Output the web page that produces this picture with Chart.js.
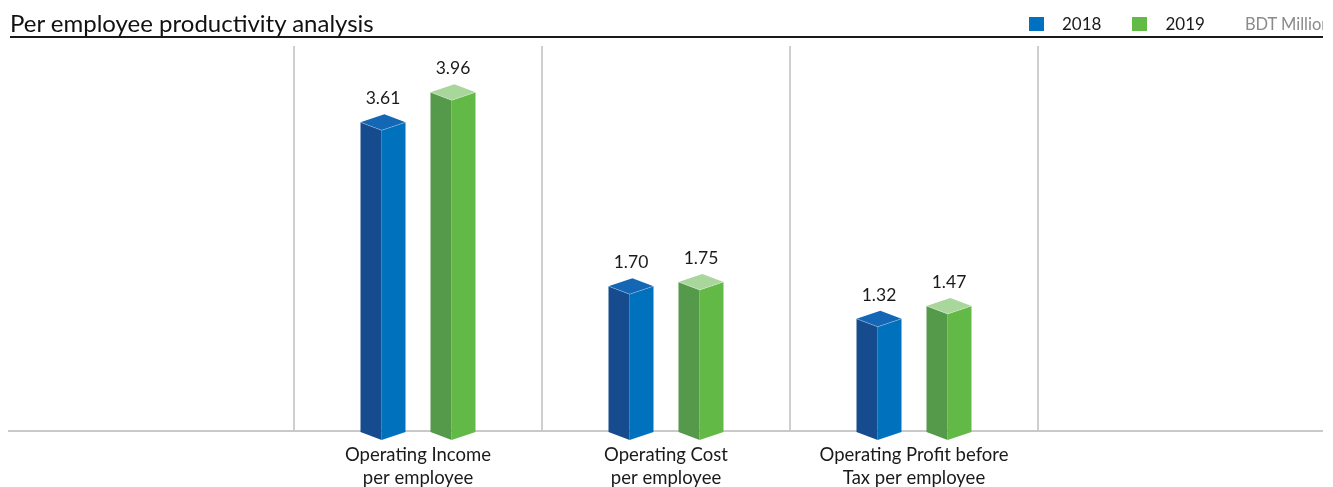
<!DOCTYPE html>
<html>
<head>
<meta charset="utf-8">
<title>Per employee productivity analysis</title>
<script src="https://cdn.jsdelivr.net/npm/chart.js@4.4.1/dist/chart.umd.min.js"></script>
<style>
  body { margin: 0; background: #fff; font-family: Lato, sans-serif; overflow: hidden; }
  #wrap { position: relative; width: 1333px; height: 487px; }
  #title { position: absolute; left: 10px; top: 8px; font-size: 24px; color: #111; white-space: nowrap; }
  #rule { position: absolute; left: 10px; top: 36px; width: 1313px; height: 2px; background: #1a1a1a; }
  #legend { position: absolute; left: 1029px; top: 13px; width: 294px; display: flex; align-items: center;
            font-size: 17px; color: #1a1a1a; overflow: hidden; white-space: nowrap; }
  .sw { width: 15px; height: 14px; margin-right: 18px; flex: none; }
  .lab { margin-right: 31px; flex: none; }
  .lab.last { margin-right: 40px; }
  #unit { font-size: 16.5px; color: #8a8a8a; flex: none; }
  #chart { position: absolute; left: 0; top: 0; width: 1333px; height: 487px; }
</style>
</head>
<body>
<div id="wrap">
  <div id="chart"><canvas id="c"></canvas></div>
  <div id="title">Per employee productivity analysis</div>
  <div id="rule"></div>
  <div id="legend"></div>
</div>
<script>
// data
const categories = ['', ['Operating Income', 'per employee'], ['Operating Cost', 'per employee'], ['Operating Profit before', 'Tax per employee'], ''];
const seriesNames = ['2018', '2019'];
const values2018 = [null, 3.61, 1.70, 1.32, null];
const values2019 = [null, 3.96, 1.75, 1.47, null];
const unitLabel = 'BDT Million';
const yMax = 4.5;

// face colours of the 3d bars
const faces = [
    { left: '#164c8e', right: '#0071bc', top: '#1467b5', key: '#0070c0' },
    { left: '#559a4a', right: '#62b946', top: '#a9d69b', key: '#62bb46' }
];

// html legend
const legendBox = document.getElementById('legend');
seriesNames.forEach((name, i) => {
    const sw = document.createElement('span');
    sw.className = 'sw';
    sw.style.background = faces[i].key;
    const lab = document.createElement('span');
    lab.className = i === seriesNames.length - 1 ? 'lab last' : 'lab';
    lab.textContent = name;
    legendBox.appendChild(sw);
    legendBox.appendChild(lab);
});
const unit = document.createElement('span');
unit.id = 'unit';
unit.textContent = unitLabel;
legendBox.appendChild(unit);

const prismBars = {
    id: 'prismBars',
    beforeDatasetsDraw(chart) {
        const ctx = chart.ctx;
        const y0 = chart.scales.y.getPixelForValue(0);
        ctx.save();
        ctx.strokeStyle = '#c9c9c9';
        ctx.lineWidth = 2;
        ctx.beginPath();
        ctx.moveTo(8, y0 - 1);
        ctx.lineTo(chart.width - 10, y0 - 1);
        ctx.stroke();
        ctx.restore();
    },
    afterDatasetsDraw(chart) {
        const ctx = chart.ctx;
        const d = 8;
        ctx.save();
        chart.data.datasets.forEach((ds, i) => {
            const meta = chart.getDatasetMeta(i);
            const c = faces[i];
            meta.data.forEach((bar, j) => {
                const v = ds.data[j];
                if (v == null) return;
                const { x, y, base, width } = bar.getProps(['x', 'y', 'base', 'width'], true);
                const L = x - width / 2, R = x + width / 2;
                const F = L + width * 0.47, B = L + R - F;

                // left face
                ctx.fillStyle = c.left;
                ctx.beginPath();
                ctx.moveTo(L, y); ctx.lineTo(F, y + d); ctx.lineTo(F, base + d); ctx.lineTo(L, base);
                ctx.closePath(); ctx.fill();
                // right face
                ctx.fillStyle = c.right;
                ctx.beginPath();
                ctx.moveTo(F, y + d); ctx.lineTo(R, y); ctx.lineTo(R, base); ctx.lineTo(F, base + d);
                ctx.closePath(); ctx.fill();
                // top
                ctx.fillStyle = c.top;
                ctx.beginPath();
                ctx.moveTo(L, y); ctx.lineTo(B, y - d); ctx.lineTo(R, y); ctx.lineTo(F, y + d);
                ctx.closePath(); ctx.fill();
                ctx.strokeStyle = 'rgba(255,255,255,0.35)';
                ctx.lineWidth = 0.8;
                ctx.beginPath();
                ctx.moveTo(L, y); ctx.lineTo(F, y + d); ctx.lineTo(R, y);
                ctx.stroke();

                // value label
                ctx.fillStyle = '#1a1a1a';
                ctx.font = '17.5px Lato, sans-serif';
                ctx.textAlign = 'center';
                ctx.textBaseline = 'alphabetic';
                ctx.fillText(v.toFixed(2), x, y - 18);
            });
        });
        ctx.restore();
    }
};

new Chart(document.getElementById('c'), {
    type: 'bar',
    data: {
        labels: categories,
        datasets: [
            { label: seriesNames[0], data: values2018, backgroundColor: 'rgba(0,0,0,0)' },
            { label: seriesNames[1], data: values2019, backgroundColor: 'rgba(0,0,0,0)' }
        ]
    },
    options: {
        responsive: true,
        maintainAspectRatio: false,
        animation: false,
        categoryPercentage: 0.5645,
        barPercentage: 0.643,
        layout: { padding: { left: 46, right: 47, top: 46, bottom: 0 } },
        plugins: {
            legend: { display: false },
            tooltip: { enabled: false }
        },
        scales: {
            x: {
                offset: true,
                border: { display: false },
                grid: {
                    offset: true,
                    drawTicks: false,
                    lineWidth: 2,
                    color: (c) => (c.index >= 1 && c.index < categories.length) ? '#cfcfcf' : 'rgba(0,0,0,0)'
                },
                ticks: {
                    color: '#1a1a1a',
                    font: { family: 'Lato, sans-serif', size: 18.5, lineHeight: 1.22 },
                    padding: 12,
                    maxRotation: 0,
                    autoSkip: false
                },
                afterFit: (scale) => { scale.height = 55; }
            },
            y: {
                display: false,
                min: 0,
                max: yMax
            }
        }
    },
    plugins: [prismBars]
});
</script>
</body>
</html>
